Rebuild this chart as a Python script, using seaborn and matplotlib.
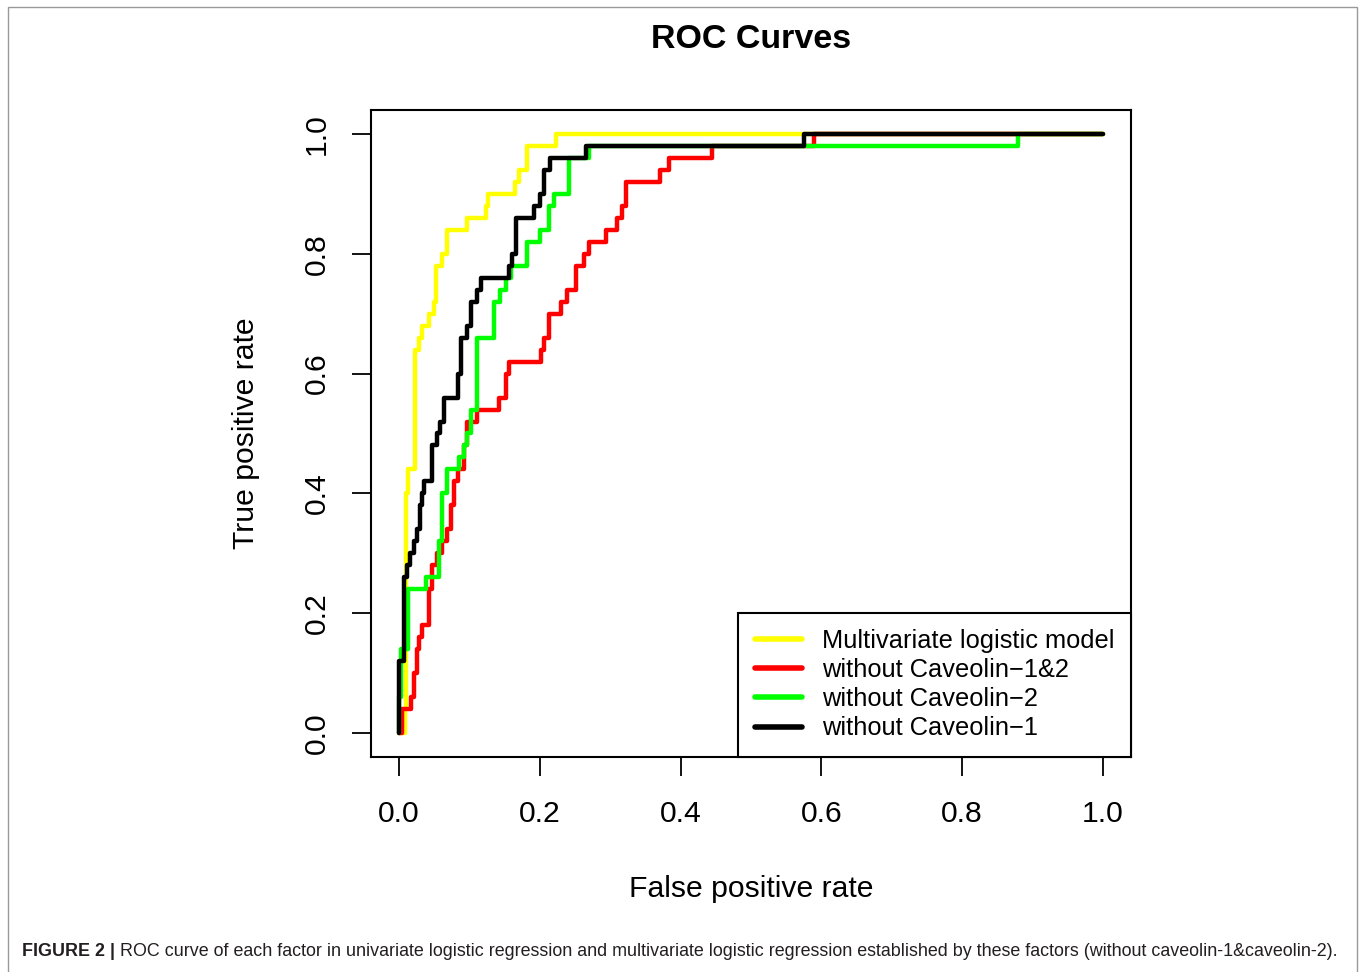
import numpy as np
import pandas as pd
import matplotlib
matplotlib.use("Agg")
import matplotlib.pyplot as plt
import seaborn as sns
from matplotlib import font_manager
from matplotlib.patches import Rectangle

# ROC curve vertices (fpr, tpr)
labels = ["Multivariate logistic model", "without Caveolin\u22121&2",
          "without Caveolin\u22122", "without Caveolin\u22121"]
colors = ["#FFFF00", "#FF0000", "#00FF00", "#000000"]

fpr_multi = [0, 0.008, 0.008, 0.01, 0.01, 0.013, 0.013, 0.023, 0.023, 0.028, 0.028, 0.033, 0.033,
             0.043, 0.043, 0.05, 0.05, 0.053, 0.053, 0.061, 0.061, 0.068, 0.068, 0.097, 0.097,
             0.124, 0.124, 0.126, 0.126, 0.164, 0.164, 0.171, 0.171, 0.182, 0.182, 0.223, 0.223, 1.0]
tpr_multi = [0, 0, 0.04, 0.04, 0.40, 0.40, 0.44, 0.44, 0.64, 0.64, 0.66, 0.66, 0.68,
             0.68, 0.70, 0.70, 0.72, 0.72, 0.78, 0.78, 0.80, 0.80, 0.84, 0.84, 0.86,
             0.86, 0.88, 0.88, 0.90, 0.90, 0.92, 0.92, 0.94, 0.94, 0.98, 0.98, 1.0, 1.0]

fpr_no12 = [0, 0.004, 0.004, 0.017, 0.017, 0.021, 0.021, 0.026, 0.026, 0.028, 0.028, 0.033, 0.033,
            0.043, 0.043, 0.047, 0.047, 0.054, 0.054, 0.061, 0.061, 0.068, 0.068, 0.074, 0.074,
            0.078, 0.078, 0.084, 0.084, 0.092, 0.092, 0.097, 0.097, 0.111, 0.111, 0.142, 0.142,
            0.152, 0.152, 0.156, 0.156, 0.202, 0.202, 0.206, 0.206, 0.213, 0.213, 0.23, 0.23,
            0.238, 0.238, 0.252, 0.252, 0.263, 0.263, 0.27, 0.27, 0.294, 0.294, 0.31, 0.31,
            0.316, 0.316, 0.323, 0.323, 0.37, 0.37, 0.384, 0.384, 0.445, 0.445, 0.59, 0.59, 1.0]
tpr_no12 = [0, 0, 0.04, 0.04, 0.06, 0.06, 0.10, 0.10, 0.14, 0.14, 0.16, 0.16, 0.18,
            0.18, 0.24, 0.24, 0.28, 0.28, 0.30, 0.30, 0.32, 0.32, 0.34, 0.34, 0.38,
            0.38, 0.42, 0.42, 0.44, 0.44, 0.48, 0.48, 0.52, 0.52, 0.54, 0.54, 0.56,
            0.56, 0.60, 0.60, 0.62, 0.62, 0.64, 0.64, 0.66, 0.66, 0.70, 0.70, 0.72,
            0.72, 0.74, 0.74, 0.78, 0.78, 0.80, 0.80, 0.82, 0.82, 0.84, 0.84, 0.86,
            0.86, 0.88, 0.88, 0.92, 0.92, 0.94, 0.94, 0.96, 0.96, 0.98, 0.98, 1.0, 1.0]

fpr_no2 = [0, 0, 0.003, 0.003, 0.013, 0.013, 0.038, 0.038, 0.057, 0.057, 0.061, 0.061, 0.068,
           0.068, 0.085, 0.085, 0.092, 0.092, 0.097, 0.097, 0.102, 0.102, 0.111, 0.111, 0.135,
           0.135, 0.144, 0.144, 0.152, 0.152, 0.159, 0.159, 0.182, 0.182, 0.2, 0.2, 0.213,
           0.213, 0.22, 0.22, 0.241, 0.241, 0.27, 0.27, 0.879, 0.879, 1.0]
tpr_no2 = [0, 0.06, 0.06, 0.14, 0.14, 0.24, 0.24, 0.26, 0.26, 0.32, 0.32, 0.40, 0.40,
           0.44, 0.44, 0.46, 0.46, 0.48, 0.48, 0.50, 0.50, 0.54, 0.54, 0.66, 0.66,
           0.72, 0.72, 0.74, 0.74, 0.76, 0.76, 0.78, 0.78, 0.82, 0.82, 0.84, 0.84,
           0.88, 0.88, 0.90, 0.90, 0.96, 0.96, 0.98, 0.98, 1.0, 1.0]

fpr_no1 = [0, 0, 0.007, 0.007, 0.011, 0.011, 0.016, 0.016, 0.021, 0.021, 0.026, 0.026, 0.03,
           0.03, 0.033, 0.033, 0.036, 0.036, 0.047, 0.047, 0.054, 0.054, 0.058, 0.058, 0.064,
           0.064, 0.083, 0.083, 0.088, 0.088, 0.097, 0.097, 0.102, 0.102, 0.11, 0.11, 0.117,
           0.117, 0.156, 0.156, 0.16, 0.16, 0.166, 0.166, 0.192, 0.192, 0.2, 0.2, 0.206,
           0.206, 0.214, 0.214, 0.266, 0.266, 0.576, 0.576, 1.0]
tpr_no1 = [0, 0.12, 0.12, 0.26, 0.26, 0.28, 0.28, 0.30, 0.30, 0.32, 0.32, 0.34, 0.34,
           0.38, 0.38, 0.40, 0.40, 0.42, 0.42, 0.48, 0.48, 0.50, 0.50, 0.52, 0.52,
           0.56, 0.56, 0.60, 0.60, 0.66, 0.66, 0.68, 0.68, 0.72, 0.72, 0.74, 0.74,
           0.76, 0.76, 0.78, 0.78, 0.80, 0.80, 0.86, 0.86, 0.88, 0.88, 0.90, 0.90,
           0.94, 0.94, 0.96, 0.96, 0.98, 0.98, 1.0, 1.0]

curves = [(fpr_multi, tpr_multi), (fpr_no12, tpr_no12), (fpr_no2, tpr_no2), (fpr_no1, tpr_no1)]

tick_values = [0.0, 0.2, 0.4, 0.6, 0.8, 1.0]
tick_labels = ["0.0", "0.2", "0.4", "0.6", "0.8", "1.0"]

caption_bold = "FIGURE 2 |"
caption_text = ("ROC curve of each factor in univariate logistic regression and multivariate logistic "
                "regression established by these factors (without caveolin-1&caveolin-2).")

sns.set_style("white")
plt.rcParams["font.family"] = ["Liberation Sans", "DejaVu Sans"]
plt.rcParams["text.color"] = "black"
plt.rcParams["axes.labelcolor"] = "black"

fig = plt.figure(figsize=(13.6, 9.72), dpi=100)
ax = fig.add_axes([371 / 1360, 1 - 757 / 972, 760 / 1360, 647 / 972])

for (fx, fy), lab, col in zip(curves, labels, colors):
    df = pd.DataFrame({"fpr": fx, "tpr": fy})
    sns.lineplot(data=df, x="fpr", y="tpr", ax=ax, color=col, lw=3.2, label=lab,
                 sort=False, estimator=None)

ax.set_xlim(-0.04, 1.04)
ax.set_ylim(-0.04, 1.04)
ax.set_xticks(tick_values, tick_labels)
ax.set_yticks(tick_values, tick_labels)
ax.tick_params(bottom=True, left=True, direction="out", length=14, width=1.3,
               labelsize=21.7, colors="black")
ax.tick_params(axis="x", pad=17)
ax.tick_params(axis="y", pad=15)
for t in ax.get_yticklabels():
    t.set_rotation(90)
    t.set_va("center")
for s in ax.spines.values():
    s.set_visible(True)
    s.set_color("black")
    s.set_linewidth(1.5)

ax.set_xlabel("False positive rate", fontsize=21.7, labelpad=34, color="black")
ax.set_ylabel("True positive rate", fontsize=21.7, labelpad=31, color="black")
fig.text(751 / 1360, 1 - 40 / 972, "ROC Curves", fontsize=24.5, weight="bold",
         ha="center", va="center", color="black")

leg = ax.legend(loc="lower right", borderaxespad=0, frameon=True, fancybox=False,
                edgecolor="black", framealpha=1, fontsize=18.3, handlelength=1.85,
                handletextpad=0.79, labelspacing=0.2, borderpad=0.65)
leg.get_frame().set_linewidth(1.5)
for h in leg.get_lines():
    h.set_linewidth(4)
for txt in leg.get_texts():
    txt.set_color("black")

# outer frame of the figure panel
fig.add_artist(Rectangle((8 / 1360, -0.05), 1349 / 1360, 1.05 - 7 / 972,
                         transform=fig.transFigure, fill=False, edgecolor="#999999", lw=1))

# caption
try:
    font_manager.findfont("Liberation Sans Narrow", fallback_to_default=False)
    cap_family = ["Liberation Sans Narrow", "Liberation Sans"]
    cap_size = 14
except ValueError:
    cap_family = ["Liberation Sans", "DejaVu Sans"]
    cap_size = 12.9
t1 = fig.text(22 / 1360, 1 - 951 / 972, caption_bold, fontsize=cap_size, weight="bold",
              family=cap_family, color="#231f20", va="center")
renderer = fig.canvas.get_renderer()
bb = t1.get_window_extent(renderer)
fig.text((bb.x1 + 5) / 1360, 1 - 951 / 972, caption_text, fontsize=cap_size,
         family=cap_family, color="#231f20", va="center")

fig.savefig("out.png", dpi=100)
